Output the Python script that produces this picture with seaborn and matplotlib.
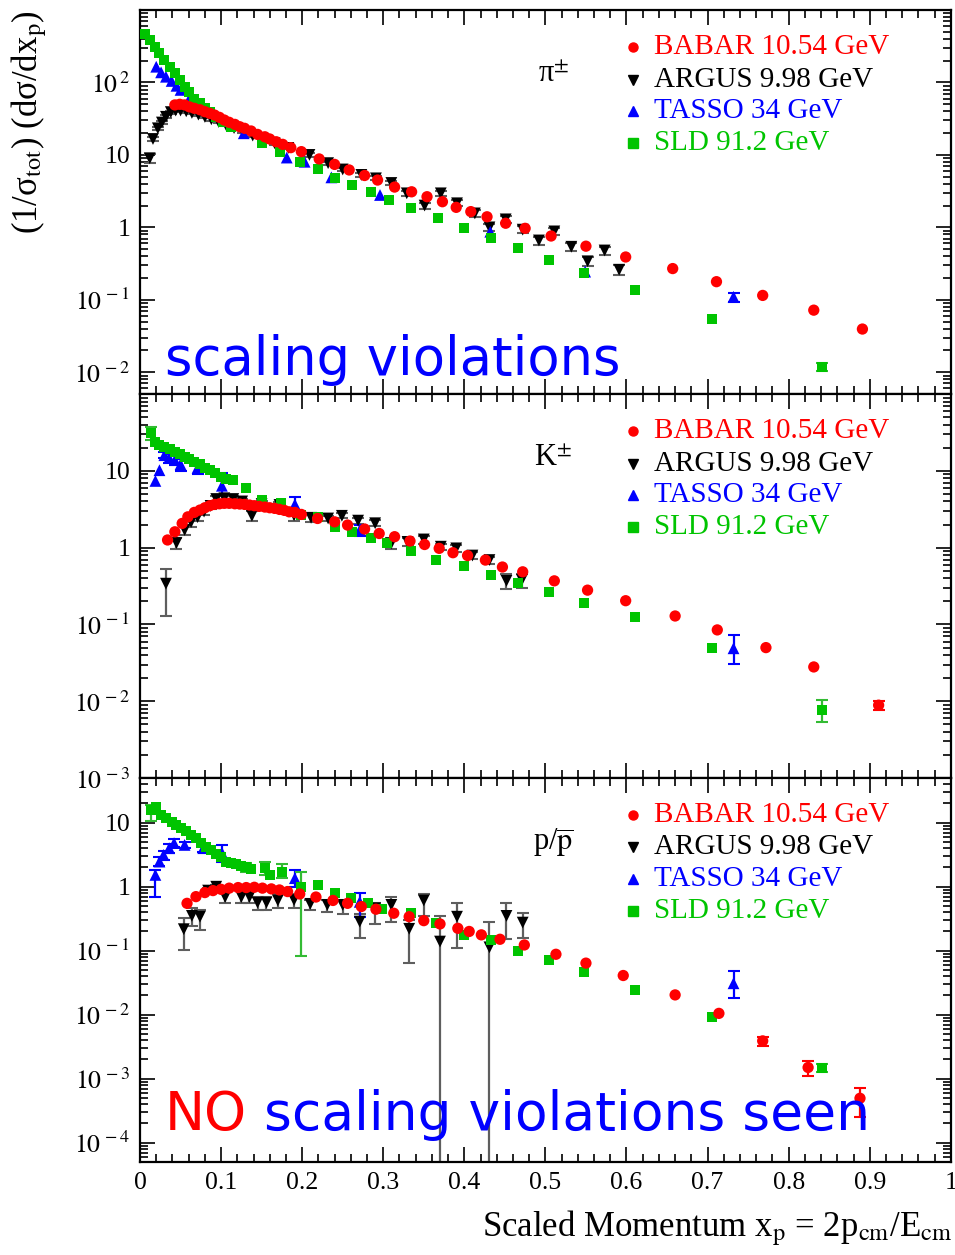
import matplotlib
matplotlib.use("Agg")
import matplotlib.pyplot as plt
import numpy as np
import pandas as pd
import seaborn as sns
from matplotlib.ticker import FixedLocator, LogLocator, MultipleLocator, NullFormatter, FuncFormatter

# ---------------------------------------------------------------- experiments
EXPERIMENTS = ["BABAR 10.54 GeV", "ARGUS 9.98 GeV", "TASSO 34 GeV", "SLD 91.2 GeV"]
DRAW_ORDER = ["ARGUS 9.98 GeV", "TASSO 34 GeV", "SLD 91.2 GeV", "BABAR 10.54 GeV"]
COLORS = {"BABAR 10.54 GeV": "#ff0000", "ARGUS 9.98 GeV": "#000000",
          "TASSO 34 GeV": "#0000ff", "SLD 91.2 GeV": "#00c400"}
ERR_COLORS = {"BABAR 10.54 GeV": "#ff0000", "ARGUS 9.98 GeV": "#5e5e5e",
              "TASSO 34 GeV": "#0000ff", "SLD 91.2 GeV": "#33bb33"}
MARKERS = {"BABAR 10.54 GeV": "o", "ARGUS 9.98 GeV": "v",
           "TASSO 34 GeV": "^", "SLD 91.2 GeV": "s"}
SIZES = {"BABAR 10.54 GeV": 66, "ARGUS 9.98 GeV": 72,
         "TASSO 34 GeV": 72, "SLD 91.2 GeV": 52}

# ---------------------------------------------------------------- pi+-
pi_babar_x = [0.043, 0.049, 0.055, 0.061, 0.067, 0.074, 0.080, 0.086, 0.092, 0.098,
              0.104, 0.110, 0.117, 0.123, 0.129, 0.137, 0.145, 0.154, 0.160, 0.168,
              0.176, 0.186, 0.199, 0.221, 0.240, 0.258, 0.277, 0.293, 0.314, 0.335,
              0.354, 0.373, 0.390, 0.408, 0.428, 0.451, 0.475, 0.507, 0.550, 0.599,
              0.657, 0.711, 0.768, 0.831, 0.891]
pi_babar_y = [49, 50, 49, 46, 44, 42, 39.5, 37.5, 35.5, 33,
              30.3, 28.2, 26.4, 24.5, 23.3, 21.4, 19.2, 17.8, 16.6, 15.2,
              14.0, 12.6, 11.1, 8.8, 7.4, 6.2, 5.2, 4.5, 3.6, 3.1,
              2.65, 2.26, 1.89, 1.65, 1.40, 1.14, 0.97, 0.76, 0.55, 0.39,
              0.27, 0.178, 0.115, 0.072, 0.0395]

pi_argus_x = [0.012, 0.016, 0.022, 0.027, 0.032, 0.038, 0.044, 0.050, 0.057, 0.064,
              0.072, 0.080, 0.088, 0.097, 0.106, 0.116, 0.127, 0.139, 0.152, 0.166,
              0.183, 0.209, 0.232, 0.250, 0.273, 0.291, 0.310, 0.329, 0.351, 0.371,
              0.391, 0.413, 0.431, 0.451, 0.472, 0.492, 0.511, 0.532, 0.552, 0.573,
              0.591]
pi_argus_y = [9.0, 16.6, 23.3, 28, 33.6, 39, 41, 41, 40, 38,
              36, 33.5, 31, 28.5, 26, 23.5, 21, 18.5, 16.5, 14.5,
              12.5, 10.0, 7.7, 6.3, 5.3, 4.75, 4.1, 2.95, 2.0, 2.95,
              2.15, 1.56, 1.0, 1.29, 0.93, 0.66, 0.88, 0.54, 0.34, 0.48,
              0.26]
pi_argus_err = [1.2, 1.0, 1.2, 1.3, 1.5, 1.7, 1.8, 1.8, 1.7, 1.6,
                1.5, 1.4, 1.3, 1.2, 1.1, 1.0, 0.9, 0.8, 0.7, 0.6,
                0.6, 0.5, 0.4, 0.35, 0.3, 0.3, 0.28, 0.22, 0.18, 0.25,
                0.2, 0.15, 0.12, 0.13, 0.1, 0.08, 0.09, 0.07, 0.05, 0.06,
                0.04]

pi_tasso_x = [0.020, 0.026, 0.032, 0.039, 0.045, 0.050, 0.062, 0.128, 0.181, 0.203,
              0.236, 0.296, 0.432, 0.549, 0.732]
pi_tasso_y = [165, 138, 120, 105, 90, 79, 63, 19.9, 9.2, 8.05,
              4.9, 2.8, 0.87, 0.245, 0.11]
pi_tasso_err = [0, 0, 0, 0, 0, 0, 0, 0, 0, 0,
                0, 0, 0, 0, 0.016]

pi_sld_x = [0.006, 0.012, 0.018, 0.024, 0.030, 0.037, 0.043, 0.049, 0.055, 0.061,
            0.067, 0.074, 0.080, 0.086, 0.094, 0.102, 0.112, 0.151, 0.173, 0.197,
            0.219, 0.241, 0.262, 0.285, 0.307, 0.334, 0.367, 0.400, 0.433, 0.466,
            0.504, 0.548, 0.610, 0.706, 0.841]
pi_sld_y = [470, 385, 311, 252, 204, 165, 134, 108, 87.5, 73,
            60, 51.5, 44, 39.5, 33.6, 28.7, 24.5, 14.5, 10.9, 8.1,
            6.4, 4.8, 3.85, 3.05, 2.39, 1.87, 1.33, 0.97, 0.71, 0.525,
            0.35, 0.237, 0.137, 0.054, 0.0119]
pi_sld_err = [0] * 34 + [0.0016]

# ---------------------------------------------------------------- K+-
k_babar_x = [0.034, 0.043, 0.052, 0.059, 0.067, 0.074, 0.080, 0.086, 0.092, 0.098,
             0.104, 0.110, 0.117, 0.123, 0.129, 0.135, 0.141, 0.147, 0.154, 0.160,
             0.166, 0.172, 0.178, 0.184, 0.191, 0.199, 0.219, 0.240, 0.256, 0.277,
             0.295, 0.314, 0.333, 0.351, 0.369, 0.386, 0.404, 0.426, 0.447, 0.472,
             0.511, 0.552, 0.599, 0.660, 0.712, 0.772, 0.831, 0.911]
k_babar_y = [1.26, 1.61, 2.07, 2.52, 2.88, 3.09, 3.31, 3.52, 3.66, 3.73,
             3.78, 3.78, 3.73, 3.70, 3.66, 3.59, 3.52, 3.45, 3.38, 3.31,
             3.25, 3.15, 3.06, 2.93, 2.88, 2.71, 2.4, 2.17, 1.97, 1.75,
             1.53, 1.39, 1.22, 1.10, 0.98, 0.86, 0.79, 0.69, 0.56, 0.485,
             0.37, 0.28, 0.204, 0.129, 0.085, 0.050, 0.028, 0.0089]
k_babar_err = [0] * 47 + [0.0012]

k_argus_x = [0.032, 0.045, 0.055, 0.063, 0.071, 0.079, 0.087, 0.094, 0.104, 0.115,
             0.126, 0.138, 0.150, 0.172, 0.190, 0.211, 0.232, 0.249, 0.269, 0.290,
             0.310, 0.330, 0.350, 0.371, 0.390, 0.410, 0.431, 0.452, 0.471]
k_argus_y = [0.34, 1.15, 1.7, 2.15, 2.5, 2.95, 3.5, 4.3, 4.4, 4.3,
             4.0, 2.6, 3.7, 3.6, 2.65, 2.45, 2.4, 2.6, 2.25, 2.08,
             1.14, 1.19, 1.28, 1.03, 0.98, 0.79, 0.69, 0.37, 0.38]
k_argus_lo = [0.21, 0.2, 0.25, 0.3, 0.3, 0.3, 0.35, 0.4, 0.35, 0.35,
              0.3, 0.4, 0.3, 0.3, 0.4, 0.3, 0.2, 0.2, 0.2, 0.18,
              0.18, 0.15, 0.15, 0.1, 0.1, 0.08, 0.07, 0.08, 0.08]
k_argus_hi = [0.18, 0.2, 0.25, 0.3, 0.3, 0.3, 0.35, 0.4, 0.35, 0.35,
              0.3, 0.4, 0.3, 0.3, 0.4, 0.3, 0.2, 0.2, 0.2, 0.18,
              0.18, 0.15, 0.15, 0.1, 0.1, 0.08, 0.07, 0.08, 0.08]

k_tasso_x = [0.019, 0.024, 0.030, 0.036, 0.043, 0.050, 0.071, 0.101, 0.191, 0.271, 0.732]
k_tasso_y = [7.4, 10.2, 16, 14.8, 13.8, 12.2, 11, 6.4, 3.66, 1.7, 0.049]
k_tasso_lo = [0, 0, 1.5, 2.0, 2.0, 2.2, 2.0, 1.6, 0.9, 0.3, 0.018]
k_tasso_hi = [0, 0, 1.5, 2.0, 2.0, 2.2, 2.0, 2.9, 0.9, 0.3, 0.024]

k_sld_x = [0.013, 0.018, 0.024, 0.030, 0.037, 0.043, 0.049, 0.055, 0.061, 0.067,
           0.074, 0.080, 0.086, 0.092, 0.100, 0.106, 0.115, 0.131, 0.151, 0.174,
           0.199, 0.219, 0.240, 0.262, 0.285, 0.305, 0.334, 0.365, 0.400, 0.433,
           0.466, 0.504, 0.548, 0.610, 0.706, 0.841]
k_sld_y = [31, 24, 22, 20.6, 19.2, 17.8, 16.4, 15.3, 14.1, 13.1,
           12.2, 11, 10.2, 9.3, 8.4, 7.95, 7.6, 6.0, 4.2, 3.8,
           2.65, 2.5, 1.87, 1.58, 1.35, 1.16, 0.90, 0.69, 0.575, 0.44,
           0.35, 0.267, 0.188, 0.124, 0.050, 0.0078]
k_sld_err = [6] + [0] * 34 + [0.0025]

# ---------------------------------------------------------------- p/pbar
p_babar_x = [0.058, 0.069, 0.080, 0.090, 0.100, 0.110, 0.121, 0.131, 0.141, 0.151,
             0.162, 0.172, 0.182, 0.197, 0.217, 0.238, 0.256, 0.273, 0.291, 0.313,
             0.332, 0.350, 0.370, 0.392, 0.406, 0.421, 0.444, 0.474, 0.513, 0.550,
             0.596, 0.660, 0.714, 0.768, 0.824, 0.888]
p_babar_y = [0.55, 0.70, 0.81, 0.87, 0.91, 0.95, 0.97, 0.97, 0.98, 0.95,
             0.925, 0.89, 0.84, 0.77, 0.69, 0.61, 0.55, 0.49, 0.445, 0.385,
             0.34, 0.295, 0.262, 0.224, 0.2, 0.177, 0.151, 0.123, 0.088, 0.064,
             0.041, 0.0204, 0.0105, 0.0039, 0.0015, 0.000495]
p_babar_lo = [0] * 33 + [0.0006, 0.0004, 0.00024]
p_babar_hi = [0] * 33 + [0.0006, 0.0004, 0.00022]

p_argus_x = [0.054, 0.064, 0.074, 0.084, 0.094, 0.105, 0.125, 0.135, 0.145, 0.156,
             0.170, 0.190, 0.210, 0.231, 0.250, 0.271, 0.290, 0.310, 0.332, 0.350,
             0.370, 0.391, 0.431, 0.452, 0.472]
p_argus_y = [0.217, 0.35, 0.34, 0.87, 1.0, 0.69, 0.69, 0.69, 0.565, 0.565,
             0.61, 0.62, 0.54, 0.52, 0.52, 0.285, 0.46, 0.52, 0.22, 0.61,
             0.139, 0.34, 0.113, 0.35, 0.275]
p_argus_lo = [0.114, 0.11, 0.13, 0.1, 0.1, 0.14, 0.14, 0.14, 0.135, 0.135,
              0.15, 0.15, 0.11, 0.12, 0.14, 0.128, 0.20, 0.235, 0.155, 0.26,
              0.13899, 0.23, 0.11299, 0.2, 0.115]
p_argus_hi = [0.103, 0.11, 0.09, 0.1, 0.07, 0.18, 0.18, 0.18, 0.135, 0.135,
              0.15, 0.15, 0.09, 0.11, 0.11, 0.095, 0.09, 0.18, 0.08, 0.15,
              0.211, 0.21, 0.167, 0.2, 0.11]

p_tasso_x = [0.019, 0.024, 0.029, 0.036, 0.042, 0.055, 0.078, 0.101, 0.191, 0.271, 0.732]
p_tasso_y = [1.53, 2.47, 3.14, 4.0, 4.8, 4.5, 4.0, 3.4, 1.36, 0.58, 0.031]
p_tasso_lo = [0.83, 0.4, 0.5, 0.6, 0.7, 0.5, 0.5, 0.93, 0.36, 0.24, 0.013]
p_tasso_hi = [0.30, 0.4, 0.5, 0.6, 0.7, 0.5, 0.5, 1.1, 0.47, 0.21, 0.0165]

p_sld_x = [0.014, 0.020, 0.026, 0.032, 0.039, 0.045, 0.051, 0.057, 0.063, 0.069,
           0.075, 0.082, 0.088, 0.094, 0.100, 0.106, 0.112, 0.119, 0.125, 0.131,
           0.137, 0.154, 0.160, 0.175, 0.199, 0.219, 0.240, 0.260, 0.281, 0.299,
           0.334, 0.365, 0.400, 0.433, 0.466, 0.504, 0.548, 0.610, 0.706, 0.841]
p_sld_y = [15.8, 17.9, 13.2, 11.8, 10.4, 9.2, 8.2, 7.3, 6.45, 5.7,
           4.8, 4.2, 3.76, 3.26, 2.95, 2.47, 2.38, 2.27, 2.11, 2.02,
           1.88, 1.94, 1.53, 1.72, 1.0, 1.07, 0.79, 0.66, 0.55, 0.445,
           0.394, 0.27, 0.177, 0.148, 0.100, 0.072, 0.047, 0.0244, 0.0093, 0.00148]
p_sld_lo = [5.0] + [0] * 18 + [0.3, 0, 0.4, 0, 0.36, 0.918] + [0] * 14 + [0.0002]
p_sld_hi = [3.0] + [0] * 18 + [0.3, 0, 0.53, 0, 0.55, 0.72] + [0] * 14 + [0.0002]

# ---------------------------------------------------------------- panels
PANELS = [
    {"label": "π$^{\\pm}$", "ylim": (5e-3, 1e3), "decades": [-2, -1, 0, 1, 2],
     "series": {
         "BABAR 10.54 GeV": (pi_babar_x, pi_babar_y, None, None),
         "ARGUS 9.98 GeV": (pi_argus_x, pi_argus_y, pi_argus_err, pi_argus_err),
         "TASSO 34 GeV": (pi_tasso_x, pi_tasso_y, pi_tasso_err, pi_tasso_err),
         "SLD 91.2 GeV": (pi_sld_x, pi_sld_y, pi_sld_err, pi_sld_err)}},
    {"label": r"K$^{\pm}$", "ylim": (1e-3, 1e2), "decades": [-3, -2, -1, 0, 1],
     "series": {
         "BABAR 10.54 GeV": (k_babar_x, k_babar_y, k_babar_err, k_babar_err),
         "ARGUS 9.98 GeV": (k_argus_x, k_argus_y, k_argus_lo, k_argus_hi),
         "TASSO 34 GeV": (k_tasso_x, k_tasso_y, k_tasso_lo, k_tasso_hi),
         "SLD 91.2 GeV": (k_sld_x, k_sld_y, k_sld_err, k_sld_err)}},
    {"label": r"p/$\overline{\rm p}$", "ylim": (5e-5, 50), "decades": [-4, -3, -2, -1, 0, 1],
     "series": {
         "BABAR 10.54 GeV": (p_babar_x, p_babar_y, p_babar_lo, p_babar_hi),
         "ARGUS 9.98 GeV": (p_argus_x, p_argus_y, p_argus_lo, p_argus_hi),
         "TASSO 34 GeV": (p_tasso_x, p_tasso_y, p_tasso_lo, p_tasso_hi),
         "SLD 91.2 GeV": (p_sld_x, p_sld_y, p_sld_lo, p_sld_hi)}},
]

# ---------------------------------------------------------------- style
sns.set_theme(style="ticks")
plt.rcParams.update({
    "font.family": ["Liberation Serif", "DejaVu Serif"],
    "mathtext.fontset": "stix",
    "axes.edgecolor": "black",
    "axes.linewidth": 1.6,
    "text.color": "black",
    "xtick.color": "black",
    "ytick.color": "black",
    "axes.facecolor": "white",
    "figure.facecolor": "white",
})


def decade_label(v, _pos=None):
    e = int(round(np.log10(v)))
    if e == 0:
        return "1"
    if e == 1:
        return "10"
    return r"$10^{\,%d}$" % e


fig = plt.figure(figsize=(9.55, 12.55), dpi=100)
left, width, height = 0.1466, 0.849, 0.306
bottoms = [0.686, 0.380, 0.0741]
axes = [fig.add_axes([left, b, width, height]) for b in bottoms]

legend_rows = [0.903, 0.819, 0.736, 0.653]

for ax, panel in zip(axes, PANELS):
    frames = []
    for exp in DRAW_ORDER:
        xs, ys, _, _ = panel["series"][exp]
        frames.append(pd.DataFrame({"x": xs, "y": ys, "exp": exp}))
    df = pd.concat(frames, ignore_index=True)

    # error bars underneath the markers
    for exp in DRAW_ORDER:
        xs, ys, lo, hi = panel["series"][exp]
        if lo is None:
            continue
        xs, ys, lo, hi = map(np.asarray, (xs, ys, lo, hi))
        m = (lo > 0) | (hi > 0)
        if m.any():
            ax.errorbar(xs[m], ys[m], yerr=[lo[m], hi[m]], fmt="none",
                        ecolor=ERR_COLORS[exp], elinewidth=1.6, capsize=4.5,
                        capthick=1.5, zorder=2)

    sns.scatterplot(data=df, x="x", y="y", hue="exp", style="exp", size="exp",
                    hue_order=EXPERIMENTS, style_order=EXPERIMENTS, size_order=EXPERIMENTS,
                    palette=COLORS, markers=MARKERS, sizes=SIZES,
                    linewidth=0, legend=False, ax=ax, zorder=3)

    ax.set_yscale("log")
    ax.set_xlim(0, 1)
    ax.set_ylim(*panel["ylim"])
    ax.set_xlabel("")
    ax.set_ylabel("")

    ax.xaxis.set_major_locator(MultipleLocator(0.1))
    ax.xaxis.set_minor_locator(MultipleLocator(0.02))
    ax.yaxis.set_major_locator(FixedLocator([10.0 ** e for e in panel["decades"]]))
    ax.yaxis.set_major_formatter(FuncFormatter(decade_label))
    ax.yaxis.set_minor_locator(LogLocator(base=10, subs=np.arange(2, 10), numticks=100))
    ax.yaxis.set_minor_formatter(NullFormatter())
    ax.tick_params(which="both", direction="in", top=True, right=True,
                   labelsize=18.5, width=1.2, color="black")
    ax.tick_params(which="major", length=11, pad=7)
    ax.tick_params(which="minor", length=5.5)

    # particle label
    ax.text(0.51, 0.83, panel["label"], transform=ax.transAxes, fontsize=22,
            ha="center", va="center")

    # legend
    for exp, yrow in zip(EXPERIMENTS, legend_rows):
        ax.plot([0.608], [yrow], transform=ax.transAxes, linestyle="none",
                marker=MARKERS[exp], color=COLORS[exp], markersize=6.5, clip_on=False)
        ax.text(0.634, yrow, exp, transform=ax.transAxes, color=COLORS[exp],
                fontsize=21, ha="left", va="center")

for ax in axes[:-1]:
    ax.tick_params(labelbottom=False)

axes[-1].xaxis.set_major_formatter(
    FuncFormatter(lambda v, p: "0" if abs(v) < 1e-9 else ("1" if abs(v - 1) < 1e-9 else f"{v:.1f}")))

# annotations
axes[0].text(0.031, 0.049, "scaling violations", transform=axes[0].transAxes,
             fontsize=38, color="#0000ff", family="DejaVu Sans",
             ha="left", va="baseline", zorder=10)
t_no = axes[2].text(0.031, 0.083, "NO", transform=axes[2].transAxes,
                    fontsize=38.5, color="#ff0000", family="DejaVu Sans",
                    ha="left", va="baseline", zorder=10)
axes[2].annotate(" scaling violations seen", xy=(1, 0), xycoords=t_no,
                 fontsize=38.5, color="#0000ff", family="DejaVu Sans",
                 ha="left", va="bottom", zorder=10)

# axis titles
fig.text(0.031, 0.992, "(1/σ$_{\\rm tot}$) (dσ/dx$_{\\rm p}$)",
         rotation=90, ha="center", va="top", fontsize=25)
fig.text(0.997, 0.021, r"Scaled Momentum x$_{\rm p}$ = 2p$_{\rm cm}$/E$_{\rm cm}$",
         ha="right", va="center", fontsize=25)

fig.savefig("out.png", dpi=100)
